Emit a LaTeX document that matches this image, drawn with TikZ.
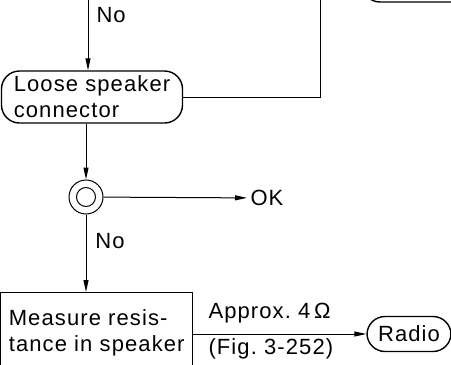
\documentclass[tikz,border=0pt]{standalone}
\usepackage{fontspec}
\setmainfont[LetterSpace=5]{Liberation Sans}
\usetikzlibrary{arrows.meta,positioning}

\begin{document}
\begin{tikzpicture}[
    x=1pt, y=-1pt,
    font=\fontsize{22}{26}\selectfont,
    line width=1pt,
    box/.style={draw, align=left, minimum height=80pt, minimum width=192pt, line width=1.4pt, anchor=north west},
    term/.style={draw, rounded corners=18pt, align=left, line width=1.4pt},
    check/.style={draw, circle, minimum size=34pt, inner sep=0pt},
    lbl/.style={anchor=west, inner sep=0pt},
    arrow/.style={-{Triangle[length=12pt, width=5pt]}}
  ]
    \clip (0,0) rectangle (451,365);
    \coordinate (top) at (88,0);
    \coordinate (ret) at (320,0);
    \node[term, minimum width=140pt, minimum height=34pt] (prev) at (432,-15) {};
    \node[term, minimum width=181pt, minimum height=52pt] (loose) at (92,97) {Loose speaker\\connector};
    \node[check] (chk) at (86,197) {};
    \draw (chk.center) circle (9.5);
    \node[lbl, inner xsep=3pt] (ok) at (247,198) {OK};
    \node[box] (meas) at (0,292) {Measure resis-\\tance in speaker};
    \node[term, minimum width=84pt, minimum height=35pt] (radio) at (409,334) {Radio};
    \node[lbl] (no1) at (96,15) {No};
    \node[lbl] (no2) at (95,241) {No};
    \node[lbl] (ohm) at (208,313) {Approx.\ 4\,Ω};
    \node[lbl] (fig) at (208,349) {(Fig.\ 3-252)};
    \draw[arrow] (top) -- (top |- loose.north);
    \draw (loose.east) -| (ret);
    \draw[arrow] (chk |- loose.south) -- (chk);
    \draw[arrow] (chk) -- (ok);
    \draw[arrow] (chk) -- (chk |- meas.north);
    \draw[arrow] (meas.east |- radio.west) -- (radio.west);
  \end{tikzpicture}
\end{document}
